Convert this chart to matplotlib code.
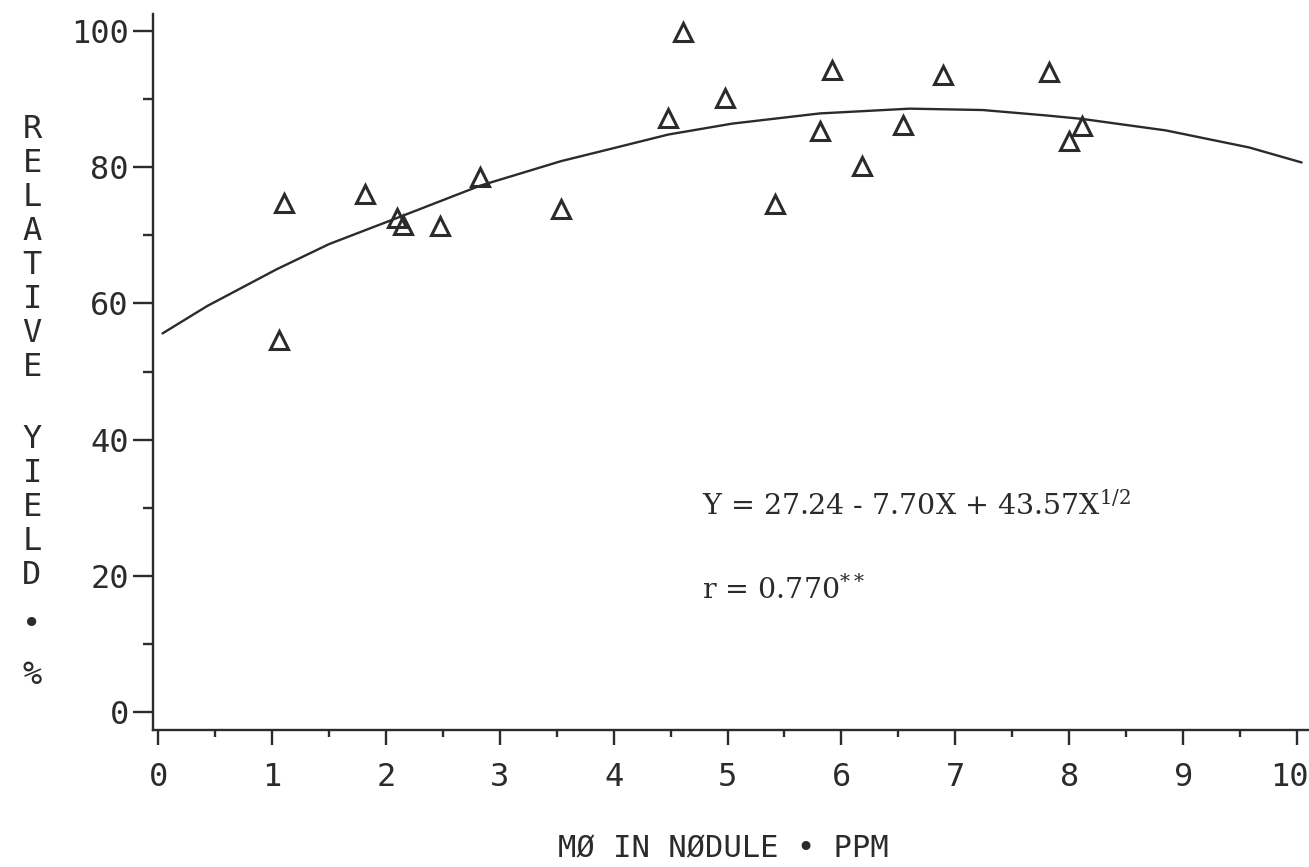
import matplotlib
matplotlib.use('Agg')
import matplotlib.pyplot as plt
import matplotlib.transforms as mtransforms

# observed points (Mo in nodule, ppm vs relative yield, %)
mo_ppm = [1.06, 1.11, 1.82, 2.10, 2.15, 2.48, 2.83, 3.54, 4.48, 4.61,
          4.98, 5.42, 5.81, 5.92, 6.18, 6.54, 6.89, 7.82, 8.00, 8.11]
rel_yield = [54.6, 74.7, 76.0, 72.5, 71.5, 71.3, 78.6, 73.9, 87.2, 99.8,
             90.1, 74.6, 85.3, 94.3, 80.2, 86.2, 93.5, 94.0, 83.8, 86.0]

# fitted curve
curve_x = [0.04, 0.43, 1.04, 1.50, 2.06, 2.83, 3.54, 4.00, 4.48, 5.04,
           5.81, 6.60, 7.24, 7.80, 8.11, 8.85, 9.58, 10.04]
curve_y = [55.6, 59.6, 65.0, 68.7, 72.3, 77.3, 80.9, 82.8, 84.8, 86.4,
           87.9, 88.6, 88.4, 87.6, 87.1, 85.4, 82.9, 80.7]

x_ticks = [0, 1, 2, 3, 4, 5, 6, 7, 8, 9, 10]
y_ticks = [0, 20, 40, 60, 80, 100]

ink = '#2b2b2b'
plot_font = 'DejaVu Sans Mono'
type_font = 'DejaVu Serif'

W, H = 1309, 867
fig = plt.figure(figsize=(W / 100, H / 100), dpi=100)
fig.patch.set_facecolor('white')

# axes box: left spine at x=153px, bottom spine at y=730px, top at y=14px
ax = fig.add_axes([153 / W, (H - 730) / H, (W - 153) / W, (730 - 14) / H])
ax.set_xlim(-0.044, 10.105)
ax.set_ylim(-2.64, 102.5)

ax.plot(curve_x, curve_y, color=ink, lw=1.7, solid_capstyle='round')
ax.plot(mo_ppm, rel_yield, linestyle='none', marker='^', markersize=13,
        markerfacecolor='none', markeredgecolor=ink, markeredgewidth=2.2)

for side in ['top', 'right']:
    ax.spines[side].set_visible(False)
for side in ['left', 'bottom']:
    ax.spines[side].set_color(ink)
    ax.spines[side].set_linewidth(1.7)

ax.set_xticks(x_ticks)
ax.set_xticks([v + 0.5 for v in x_ticks[:-1]], minor=True)
ax.set_yticks(y_ticks)
ax.set_yticks([v + 10 for v in y_ticks[:-1]], minor=True)
ax.set_xticklabels([str(v) for v in x_ticks])
ax.set_yticklabels([str(v) for v in y_ticks])

ax.tick_params(axis='x', which='major', direction='out', length=11, width=1.7,
               color=ink, pad=12, labelsize=23, labelcolor=ink)
ax.tick_params(axis='x', which='minor', direction='out', length=5, width=1.7, color=ink)
ax.tick_params(axis='y', which='major', direction='out', length=14.5, width=1.7,
               color=ink, pad=3, labelsize=23, labelcolor=ink)
ax.tick_params(axis='y', which='minor', direction='out', length=7.5, width=1.7, color=ink)
for lab in ax.get_xticklabels() + ax.get_yticklabels():
    lab.set_fontfamily(plot_font)

# last x label sits against the page edge, nudge it left a little
last = ax.get_xticklabels()[-1]
last.set_transform(last.get_transform() +
                   mtransforms.ScaledTranslation(-8 / 100, 0, fig.dpi_scale_trans))

# x axis title
fig.text(723 / W, 1 - 849 / H, 'MØ IN NØDULE • PPM', family=plot_font,
         fontsize=22, color=ink, ha='center', va='center')

# y axis title, one plotter letter per row
ylab_chars = ['R', 'E', 'L', 'A', 'T', 'I', 'V', 'E',
              'Y', 'I', 'E', 'L', 'D', '•', '%']
ylab_rows = [129, 163, 197, 231, 265, 299, 333, 367,
             439, 473, 507, 541, 575, 624, 676]
for ch, row in zip(ylab_chars, ylab_rows):
    fig.text(32 / W, 1 - row / H, ch, family=plot_font, fontsize=23,
             color=ink, ha='center', va='center')

# typed regression note
plt.rcParams['mathtext.fontset'] = 'dejavuserif'
ax.text(4.78, 29.0, 'Y = 27.24 - 7.70X + 43.57X$^{1/2}$', family=type_font,
        fontsize=20.5, color=ink, ha='left', va='baseline')
ax.text(4.78, 16.7, 'r = 0.770$^{**}$', family=type_font,
        fontsize=20.5, color=ink, ha='left', va='baseline')

fig.savefig('out.png', dpi=100, facecolor='white')
